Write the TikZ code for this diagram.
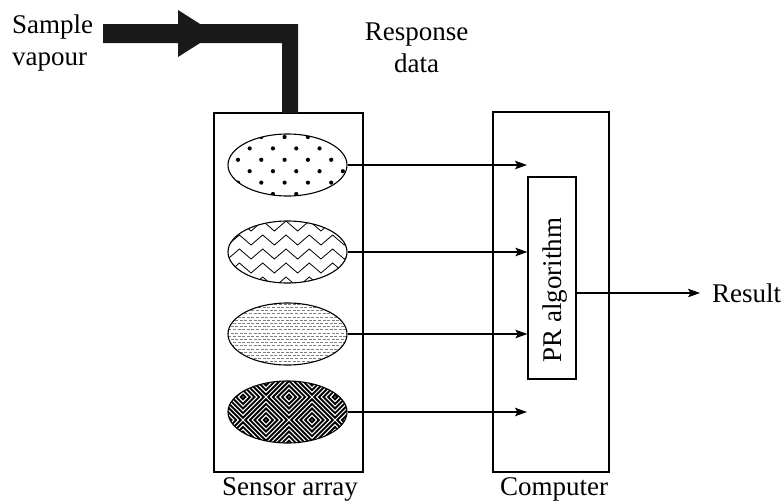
\documentclass[tikz,border=0pt]{standalone}
\usepackage{fontspec}
\setmainfont{Liberation Serif}
\usetikzlibrary{shapes.geometric,arrows.meta}
\begin{document}
\begin{tikzpicture}[x=1pt,y=-1pt,
  every node/.style={font=\fontsize{27}{32}\selectfont},
  unit/.style={draw, line width=1.2pt, inner sep=0pt},
  sensor/.style={draw, ellipse, line width=1.1pt, inner sep=0pt,
    minimum width=119pt, minimum height=62pt},
  arr/.style={line width=1.2pt, -{Stealth[length=12pt,width=8.5pt,inset=2.5pt]}},
  lbl/.style={inner sep=0pt}]
\useasboundingbox (0,0) rectangle (784,501);

% housings
\node[unit, minimum width=149pt, minimum height=359pt] (sa) at (288.5,292.5) {};
\node[unit, minimum width=116pt, minimum height=360pt] (pc) at (551,292) {};
\node[unit, minimum width=48pt, minimum height=202pt] (pr) at (552,278) {};
\node[lbl, rotate=90, anchor=base] (prt) at (561,290) {PR algorithm};

% sensor coatings, each clipped to its ellipse
\begin{scope}
  \clip (287.5,165) ellipse (59.5 and 31);
  \foreach \k in {0,...,7}{\foreach \i in {-1,...,5}{
    \fill ({238+23.3*\i-11.65*mod(\k+1,2)},{125.6+11.4*\k}) circle (2.1pt);}}
\end{scope}
\begin{scope}
  \clip (287.5,252) ellipse (59.5 and 31);
  \foreach \r in {0,...,5}{
    \draw[line width=0.8pt] (204.45,{217+14*\r})
      \foreach \j in {0,...,7}{ -- ++(11.65,-10) -- ++(11.65,10) };}
\end{scope}
\begin{scope}
  \clip (287.5,334) ellipse (59.5 and 31);
  \foreach \r in {0,...,21}{
    \draw[gray, line width=0.7pt, dash pattern=on 3pt off 1.6pt,
      dash phase={2.3*mod(\r,2)}] (226,{301+3.2*\r}) -- (350,{301+3.2*\r});}
\end{scope}
\begin{scope}
  \clip (287.5,412) ellipse (59.5 and 31);
  \foreach \cx/\cy in {220/374,266/374,312/374,358/374,
                       220/420,266/420,312/420,358/420,
                       220/466,266/466,312/466,358/466,
                       197/397,243/397,289/397,335/397,381/397,
                       197/443,243/443,289/443,335/443,381/443}{
    \foreach \rr in {2.3,6.9,11.5,16.1,20.7}{
      \draw[line width=1.9pt] (\cx-\rr,\cy) -- (\cx,\cy-\rr) -- (\cx+\rr,\cy)
        -- (\cx,\cy+\rr) -- cycle;}}
\end{scope}

% sensor outlines
\node[sensor] (s1) at (287.5,165) {};
\node[sensor] (s2) at (287.5,252) {};
\node[sensor] (s3) at (287.5,334) {};
\node[sensor] (s4) at (287.5,412) {};

% response data lines
\coordinate (t1) at (527,165);
\coordinate (t4) at (527,412);
\draw[arr] (s1.east) -- (t1);
\draw[arr] (s2.east) -- (s2.east -| pr.west);
\draw[arr] (s3.east) -- (s3.east -| pr.west);
\draw[arr] (s4.east) -- (t4);

% result
\node[lbl, anchor=west] (res) at (712,293) {Result};
\draw[arr, shorten >=12pt] (pr.east |- res.west) -- (res.west);

% sample inlet arrow
\fill[black!90] (103,24) -- (298,24) -- (298,113) -- (282,113) -- (282,43)
  -- (103,43) -- cycle;
\fill[black!90] (178,10) -- (215,33.5) -- (178,57) -- cycle;

% labels
\node[lbl, align=left, anchor=base west] (sv) at (12,65) {Sample\\vapour};
\node[lbl, align=center, anchor=base] (rd) at (416.5,72) {Response\\data};
\node[lbl, anchor=base] (sal) at (290,495) {Sensor array};
\node[lbl, anchor=base] (pcl) at (554,495) {Computer};
\end{tikzpicture}
\end{document}
